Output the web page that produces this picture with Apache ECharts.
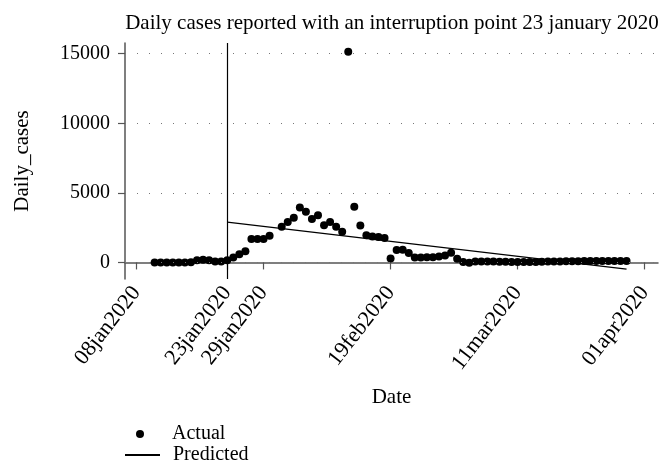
<!DOCTYPE html>
<html>
<head>
<meta charset="utf-8">
<script src="https://cdn.jsdelivr.net/npm/echarts@6/dist/echarts.min.js"></script>
<style>
  html, body { margin: 0; padding: 0; background: #fff; }
  #chart { width: 661px; height: 465px; }
</style>
</head>
<body>
<div id="chart"></div>
<script>
// daily values starting at firstDay, one per day (null = no dot)
const firstDay = "2020-01-11";
const actualCases = [
  0, 0, 0, 0, 0, 0, 10, 150, 200, 150, 60, 60,          // 11jan - 22jan
  150, 360, 580, 810, 1680, 1680, 1680, 1920, null,      // 23jan - 31jan
  2560, 2900, 3210, 3950, 3640, 3130, 3400, 2680, 2900,  // 01feb - 09feb
  2560, 2200, 15150, 4000, 2650, 1960, 1860, 1820, 1750, // 10feb - 18feb
  290, 890, 920, 670, 360, 360, 380, 380, 420, 500, 700, // 19feb - 29feb
  260, 30, -30, 60, 60, 60, 60, 50, 50, 40, 40, 30, 30,  // 01mar - 13mar
  40, 50, 60, 60, 70, 80, 90, 90, 100, 100, 100, 100,    // 14mar - 25mar
  100, 100, 100, 100                                     // 26mar - 29mar
];
// fitted line end points
const predictedDates = ["2020-01-23", "2020-03-29"];
const predictedCases = [2900, -480];

const interruptionDate = "2020-01-23";
const xTickDates = ["2020-01-08", "2020-01-23", "2020-01-29", "2020-02-19", "2020-03-11", "2020-04-01"];
const yTicks = [0, 5000, 10000, 15000];

const MONTHS = ["jan", "feb", "mar", "apr", "may", "jun", "jul", "aug", "sep", "oct", "nov", "dec"];
const FONT = "Liberation Serif";

function dayNum(s) {
  const p = s.split("-").map(Number);
  return Date.UTC(p[0], p[1] - 1, p[2]) / 86400000;
}
function fmtDay(n) {
  const dt = new Date(Math.round(n) * 86400000);
  return String(dt.getUTCDate()).padStart(2, "0") + MONTHS[dt.getUTCMonth()] + dt.getUTCFullYear();
}

const start = dayNum(firstDay);
const actualData = [];
actualCases.forEach((v, i) => {
  if (v !== null) actualData.push([start + i, v]);
});
const predictedData = predictedDates.map((d, i) => [dayNum(d), predictedCases[i]]);
const xTicks = xTickDates.map(dayNum);
const base = dayNum("2020-01-08");

const myChart = echarts.init(document.getElementById("chart"));
const option = {
  animation: false,
  title: {
    text: "Daily cases reported with an interruption point 23 january 2020",
    left: 387,
    top: 8,
    textAlign: "center",
    textStyle: { fontFamily: FONT, fontSize: 21, fontWeight: "normal", color: "#000" }
  },
  legend: [
    {
      left: 131,
      top: 419,
      itemWidth: 8,
      itemHeight: 8,
      textStyle: { fontFamily: FONT, fontSize: 20, color: "#000", padding: [0, 0, 0, 23] },
      data: [{ name: "Actual", icon: "circle" }]
    },
    {
      left: 119,
      top: 440,
      itemWidth: 35,
      itemHeight: 8,
      textStyle: { fontFamily: FONT, fontSize: 20, color: "#000", padding: [0, 0, 0, 8] },
      data: [{ name: "Predicted", itemStyle: { opacity: 0 } }]
    }
  ],
  grid: { left: 125, right: 3, top: 43, bottom: 186 },
  xAxis: {
    type: "value",
    min: base - 1.9,
    max: base + 86.2,
    name: "Date",
    nameLocation: "middle",
    nameGap: 108,
    nameTextStyle: { fontFamily: FONT, fontSize: 21, color: "#000" },
    axisLine: { lineStyle: { color: "#555", width: 1.5 } },
    axisTick: { customValues: xTicks, length: 7, lineStyle: { color: "#555", width: 1.2 } },
    axisLabel: {
      customValues: xTicks,
      rotate: 52,
      margin: 10,
      formatter: fmtDay,
      fontFamily: FONT,
      fontSize: 22,
      color: "#000"
    },
    splitLine: { show: false }
  },
  yAxis: {
    type: "value",
    min: -1190,
    max: 15770,
    name: "Daily_cases",
    nameLocation: "middle",
    nameGap: 92,
    nameTextStyle: { fontFamily: FONT, fontSize: 21, color: "#000" },
    axisLine: { show: true, lineStyle: { color: "#555", width: 1.5 } },
    axisTick: { show: true, customValues: yTicks, length: 7, lineStyle: { color: "#555", width: 1.2 } },
    axisLabel: {
      customValues: yTicks,
      margin: 15,
      formatter: (v) => String(v),
      fontFamily: FONT,
      fontSize: 20,
      color: "#000"
    },
    splitLine: { show: false }
  },
  series: [
    {
      name: "Actual",
      type: "scatter",
      symbol: "circle",
      symbolSize: 8,
      itemStyle: { color: "#000", opacity: 1 },
      data: actualData,
      markLine: {
        silent: true,
        symbol: "none",
        label: { show: false },
        lineStyle: { type: [1, 11], color: "#777", width: 1.2 },
        data: yTicks.map((v) => ({ yAxis: v }))
      }
    },
    {
      name: "Predicted",
      type: "line",
      symbol: "none",
      lineStyle: { color: "#000", width: 1.3 },
      itemStyle: { color: "#000" },
      data: predictedData,
      markLine: {
        silent: true,
        symbol: "none",
        label: { show: false },
        lineStyle: { type: "solid", color: "#000", width: 1.2 },
        data: [{ xAxis: dayNum(interruptionDate) }]
      }
    }
  ]
};
myChart.setOption(option);
window.addEventListener("resize", () => {
  myChart.resize();
});
</script>
</body>
</html>
